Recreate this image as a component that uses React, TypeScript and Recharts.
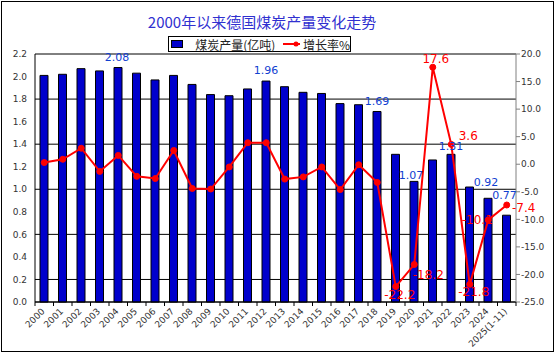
import { ComposedChart, Bar, Line, XAxis, YAxis, CartesianGrid, LabelList } from "recharts";

const years = [
  "2000", "2001", "2002", "2003", "2004", "2005", "2006", "2007", "2008", "2009",
  "2010", "2011", "2012", "2013", "2014", "2015", "2016", "2017", "2018", "2019",
  "2020", "2021", "2022", "2023", "2024", "2025(1-11)",
];
// 煤炭产量 (亿吨)
const output = [
  2.01, 2.02, 2.07, 2.05, 2.08, 2.03, 1.97, 2.01, 1.93, 1.84,
  1.83, 1.89, 1.96, 1.91, 1.86, 1.85, 1.76, 1.75, 1.69, 1.31,
  1.07, 1.26, 1.31, 1.02, 0.92, 0.77,
];
// 增长率 %
const growth = [
  0.3, 0.9, 2.9, -1.3, 1.6, -2.2, -2.6, 2.5, -4.4, -4.5,
  -0.5, 3.9, 3.9, -2.7, -2.3, -0.5, -4.6, -0.1, -3.3, -22.2,
  -18.2, 17.6, 3.6, -21.8, -10.1, -7.4,
];
const leftTicks = [0, 0.2, 0.4, 0.6, 0.8, 1.0, 1.2, 1.4, 1.6, 1.8, 2.0, 2.2];
const rightTicks = [-25, -20, -15, -10, -5, 0, 5, 10, 15, 20];
const outputLabelYears = ["2004", "2012", "2018", "2020", "2022", "2024", "2025(1-11)"];
const growthLabelYears = ["2019", "2020", "2021", "2022", "2023", "2024", "2025(1-11)"];

// label placement (px offsets from the mark), not data
const outputLabelShift: Record<string, [number, number]> = {
  "2004": [-1, -10],
  "2012": [0, -11],
  "2018": [0, -10],
  "2020": [-3, -6],
  "2022": [0, -8],
  "2024": [-2, -16],
  "2025(1-11)": [-2, -20],
};
const growthLabelSpot: Record<string, string> = {
  "2019": "bottom",
  "2020": "bottomRight",
  "2021": "top",
  "2022": "topRight",
  "2023": "bottom",
  "2024": "left",
  "2025(1-11)": "right",
};
const spotOffset: Record<string, [number, number]> = {
  top: [3, -8],
  topRight: [17, -8],
  bottom: [4, 8],
  bottomRight: [14, 10],
  left: [-11, 0],
  right: [17, 3],
};

const data = years.map((year, i) => ({ year, output: output[i], growth: growth[i] }));

const W = 556;
const H = 354;
const margin = { top: 54, right: 0, left: 0, bottom: 0 };
const leftW = 35;
const rightW = 40;
const plotW = W - leftW - rightW;
const font = "'DejaVu Sans', sans-serif";

function YearTick(props: any) {
  const { x, y, payload, index } = props;
  const half = plotW / years.length / 2;
  return (
    <g>
      <line x1={x - half} x2={x - half} y1={y} y2={y + 4} stroke="#000" />
      {index === years.length - 1 && (
        <line x1={x + half} x2={x + half} y1={y} y2={y + 4} stroke="#000" />
      )}
      <text
        x={x + 1}
        y={y + 10}
        transform={`rotate(-45 ${x + 1} ${y + 10})`}
        textAnchor="end"
        fontSize={9}
        fontFamily={font}
        fill="#333"
      >
        {payload.value}
      </text>
    </g>
  );
}

function OutputLabel(props: any) {
  const { x, y, width, value, index } = props;
  const shift = outputLabelShift[years[index]];
  if (!outputLabelYears.includes(years[index]) || !shift) return null;
  return (
    <text
      x={x + width / 2 + shift[0]}
      y={y + shift[1]}
      textAnchor="middle"
      dominantBaseline="central"
      fontSize={11}
      fontFamily={font}
      fill="#1040d0"
    >
      {value.toFixed(2)}
    </text>
  );
}

function GrowthLabel(props: any) {
  const { x, y, value, index } = props;
  const spot = growthLabelSpot[years[index]];
  if (!growthLabelYears.includes(years[index]) || !spot) return null;
  const [dx, dy] = spotOffset[spot];
  return (
    <text
      x={x + dx}
      y={y + dy}
      textAnchor="middle"
      dominantBaseline="central"
      fontSize={12}
      fontFamily={font}
      fill="#ff0000"
    >
      {value.toFixed(1)}
    </text>
  );
}

export default function App() {
  return (
    <div style={{ position: "absolute", left: 0, top: 0, width: W, height: H, background: "#fff" }}>
      <div
        style={{
          position: "absolute",
          left: 1,
          top: 1,
          width: 553,
          height: 351,
          border: "1px solid #000",
          boxSizing: "border-box",
        }}
      />
      <div
        style={{
          position: "absolute",
          left: 0,
          width: 524,
          top: 12,
          textAlign: "center",
          fontFamily: "'Noto Sans CJK SC', sans-serif",
          fontSize: 15,
          color: "#3030d0",
          lineHeight: "20px",
        }}
      >
        2000年以来德国煤炭产量变化走势
      </div>
      <div
        style={{
          position: "absolute",
          left: 168,
          top: 36,
          width: 183,
          height: 16,
          border: "1px solid #000",
          boxSizing: "border-box",
          display: "flex",
          alignItems: "center",
          fontFamily: "'Noto Sans CJK SC', sans-serif",
          fontSize: 12,
          color: "#222",
          whiteSpace: "nowrap",
        }}
      >
        <span style={{ display: "inline-block", marginLeft: 2, width: 17, height: 6, background: "#0000cc", border: "1px solid #000" }} />
        <span style={{ marginLeft: 12 }}>煤炭产量(亿吨)</span>
        <svg width={28} height={10} style={{ marginLeft: 8 }}>
          <line x1={0} x2={26} y1={5} y2={5} stroke="#ff0000" strokeWidth={2} />
          <circle cx={13} cy={5} r={2.5} fill="#ff0000" />
        </svg>
        <span style={{ marginLeft: 3 }}>增长率%</span>
      </div>
      <ComposedChart width={W} height={H} data={data} margin={margin} style={{ position: "absolute", left: 0, top: 0 }}>
        <CartesianGrid yAxisId="left" vertical={false} stroke="#000" strokeOpacity={1} />
        <XAxis
          dataKey="year"
          interval={0}
          height={52}
          tickSize={0}
          tickMargin={0}
          axisLine={{ stroke: "#000" }}
          tick={<YearTick />}
        />
        <YAxis
          yAxisId="left"
          width={leftW}
          domain={[0, 2.2]}
          ticks={leftTicks}
          tickLine={false}
          axisLine={{ stroke: "#000" }}
          tickFormatter={(v: number) => v.toFixed(1)}
          tick={{ fontSize: 9, fill: "#333", fontFamily: font }}
        />
        <YAxis
          yAxisId="right"
          orientation="right"
          width={rightW}
          domain={[-25, 20]}
          ticks={rightTicks}
          tickSize={4}
          tickMargin={1}
          tickLine={{ stroke: "#808080" }}
          axisLine={{ stroke: "#808080" }}
          tickFormatter={(v: number) => v.toFixed(1)}
          tick={{ fontSize: 9, fill: "#333", fontFamily: font, textAnchor: "start" }}
        />
        <Bar yAxisId="left" dataKey="output" barSize={8} fill="#0000cc" stroke="#000" strokeWidth={1} isAnimationActive={false}>
          <LabelList dataKey="output" content={<OutputLabel />} />
        </Bar>
        <Line
          yAxisId="right"
          dataKey="growth"
          stroke="#ff0000"
          strokeWidth={2}
          dot={{ r: 3, fill: "#ff0000", stroke: "#ff0000", strokeWidth: 1 }}
          isAnimationActive={false}
        >
          <LabelList dataKey="growth" content={<GrowthLabel />} />
        </Line>
      </ComposedChart>
    </div>
  );
}
